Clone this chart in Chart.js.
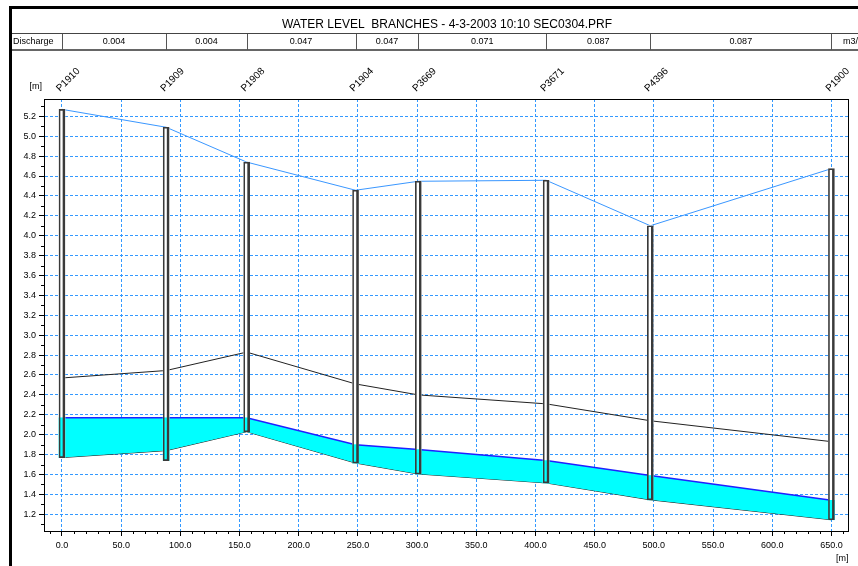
<!DOCTYPE html>
<html>
<head>
<meta charset="utf-8">
<title>Water level branches</title>
<script src="https://cdn.jsdelivr.net/npm/chart.js@4/dist/chart.umd.min.js"></script>
<style>
    body { margin: 0; background: #fff; }
    #wrap { width: 858px; height: 566px; }
</style>
</head>
<body>
<div id="wrap"><canvas id="myChart" width="858" height="566"></canvas></div>
<script>
// Données du profil
const nodeNames = ['P1910', 'P1909', 'P1908', 'P1904', 'P3669', 'P3671', 'P4396', 'P1900'];
const chainage = [0, 88, 156, 248, 301, 409, 497, 650];
const groundLevel = [5.27, 5.09, 4.74, 4.457, 4.547, 4.557, 4.10, 4.674];
const crownLevel = [2.57, 2.645, 2.83, 2.51, 2.40, 2.31, 2.14, 1.93];
const waterLevel = [2.17, 2.17, 2.17, 1.90, 1.85, 1.74, 1.59, 1.34];
const invertLevel = [1.77, 1.84, 2.03, 1.715, 1.605, 1.515, 1.345, 1.145];
const manholeBottom = [1.77, 1.74, 2.03, 1.715, 1.605, 1.515, 1.345, 1.145];
const discharge = ['0.004', '0.004', '0.047', '0.047', '0.071', '0.087', '0.087'];

// Graduations
const xTicks = [0, 50, 100, 150, 200, 250, 300, 350, 400, 450, 500, 550, 600, 650];
const yTicks = [1.2, 1.4, 1.6, 1.8, 2.0, 2.2, 2.4, 2.6, 2.8, 3.0, 3.2, 3.4, 3.6, 3.8, 4.0, 4.2, 4.4, 4.6, 4.8, 5.0, 5.2];

const FONT = 'Liberation Sans, Arial, sans-serif';

// Construction des points
function toPoints(values) {
    let pts = [];
    for (let i = 0; i < chainage.length; i++) {
        pts.push({ x: chainage[i], y: values[i] });
    }
    return pts;
}

function toBars(lows, highs) {
    let pts = [];
    for (let i = 0; i < chainage.length; i++) {
        pts.push({ x: chainage[i], y: [lows[i], highs[i]] });
    }
    return pts;
}

// En-tête : cadre, titre, ligne des débits, noms des noeuds
const headerPlugin = {
    id: 'header',
    beforeDraw(chart) {
        const ctx = chart.ctx;
        const xs = chart.scales.x;
        ctx.save();
        ctx.fillStyle = '#fff';
        ctx.fillRect(0, 0, chart.width, chart.height);

        // cadre
        ctx.fillStyle = '#000';
        ctx.fillRect(9, 6, chart.width - 9, 3);
        ctx.fillRect(9, 6, 3, chart.height - 6);

        // titre
        ctx.font = '12px ' + FONT;
        ctx.textAlign = 'center';
        ctx.textBaseline = 'alphabetic';
        ctx.fillText('WATER LEVEL  BRANCHES - 4-3-2003 10:10 SEC0304.PRF', 447, 28);

        // ligne des débits
        ctx.strokeStyle = '#444';
        ctx.lineWidth = 1;
        ctx.beginPath();
        ctx.moveTo(12, 33.5);
        ctx.lineTo(chart.width, 33.5);
        ctx.stroke();
        ctx.strokeStyle = '#666';
        ctx.lineWidth = 2;
        ctx.beginPath();
        ctx.moveTo(12, 50);
        ctx.lineTo(chart.width, 50);
        ctx.stroke();

        ctx.strokeStyle = '#555';
        ctx.lineWidth = 1;
        for (let i = 0; i < chainage.length; i++) {
            const px = Math.round(xs.getPixelForValue(chainage[i])) + 0.5;
            ctx.beginPath();
            ctx.moveTo(px, 34);
            ctx.lineTo(px, 50);
            ctx.stroke();
        }

        ctx.font = '9px ' + FONT;
        ctx.textBaseline = 'middle';
        ctx.textAlign = 'left';
        ctx.fillText('Discharge', 13, 42);
        ctx.textAlign = 'center';
        for (let i = 0; i < discharge.length; i++) {
            const a = xs.getPixelForValue(chainage[i]);
            const b = xs.getPixelForValue(chainage[i + 1]);
            ctx.fillText(discharge[i], (a + b) / 2, 42);
        }
        ctx.textAlign = 'left';
        ctx.fillText('m3/s', 843, 42);

        // noms des noeuds
        ctx.font = '10px ' + FONT;
        ctx.textBaseline = 'alphabetic';
        for (let i = 0; i < nodeNames.length; i++) {
            const px = xs.getPixelForValue(chainage[i]);
            ctx.save();
            ctx.translate(px - 2, 92);
            ctx.rotate(-Math.PI / 4);
            ctx.fillText(nodeNames[i], 0, 0);
            ctx.restore();
        }

        // unités
        ctx.font = '9px ' + FONT;
        ctx.textBaseline = 'middle';
        ctx.textAlign = 'right';
        ctx.fillText('[m]', 42, 87);
        ctx.textAlign = 'left';
        ctx.fillText('[m]', 836, 559);
        ctx.restore();
    },
    beforeDatasetsDraw(chart) {
        // cadre de la zone du graphique
        const a = chart.chartArea;
        const ctx = chart.ctx;
        ctx.save();
        ctx.strokeStyle = '#000';
        ctx.lineWidth = 1;
        ctx.strokeRect(Math.round(a.left) + 0.5, Math.round(a.top) + 0.5,
            Math.round(a.right - a.left), Math.round(a.bottom - a.top));
        ctx.restore();
    },
    afterDraw(chart) {
        // petites graduations
        const ctx = chart.ctx;
        const xs = chart.scales.x;
        const ys = chart.scales.y;
        const a = chart.chartArea;
        ctx.save();
        ctx.strokeStyle = '#000';
        ctx.lineWidth = 1;
        ctx.beginPath();
        for (let v = -10; v <= 660; v += 10) {
            if (v % 50 === 0) continue;
            const px = Math.round(xs.getPixelForValue(v)) + 0.5;
            ctx.moveTo(px, a.bottom);
            ctx.lineTo(px, a.bottom + 3);
        }
        for (let k = 11; k <= 53; k += 2) {
            const py = Math.round(ys.getPixelForValue(k / 10)) + 0.5;
            ctx.moveTo(a.left - 3, py);
            ctx.lineTo(a.left, py);
        }
        ctx.stroke();
        ctx.restore();
    }
};

const ctx = document.getElementById('myChart');

const chart = new Chart(ctx, {
    type: 'line',
    data: {
        datasets: [
            {
                label: 'Ground level',
                data: toPoints(groundLevel),
                borderColor: '#3a97ff',
                borderWidth: 1,
                pointRadius: 0,
                fill: false
            },
            {
                label: 'Crown',
                data: toPoints(crownLevel),
                borderColor: '#222',
                borderWidth: 1,
                pointRadius: 0,
                fill: false
            },
            {
                label: 'Water level',
                data: toPoints(waterLevel),
                borderColor: '#2020ff',
                borderWidth: 1.5,
                backgroundColor: '#00ffff',
                pointRadius: 0,
                fill: '+1'
            },
            {
                label: 'Invert',
                data: toPoints(invertLevel),
                borderColor: '#222',
                borderWidth: 1,
                pointRadius: 0,
                fill: false
            },
            {
                type: 'bar',
                label: 'Manhole',
                data: toBars(manholeBottom, groundLevel),
                backgroundColor: '#fff',
                borderWidth: 0,
                barThickness: 6,
                grouped: false,
                order: -1
            },
            {
                type: 'bar',
                label: 'Manhole water',
                data: toBars(manholeBottom, waterLevel),
                backgroundColor: '#00ffff',
                borderWidth: 0,
                barThickness: 6,
                grouped: false,
                order: -2
            },
            {
                type: 'bar',
                label: 'Manhole outline',
                data: toBars(manholeBottom, groundLevel),
                backgroundColor: 'rgba(0,0,0,0)',
                borderColor: '#3a3a3a',
                borderWidth: { left: 1, top: 1, bottom: 1, right: 2 },
                borderSkipped: false,
                barThickness: 6,
                grouped: false,
                order: -3
            }
        ]
    },
    options: {
        responsive: false,
        animation: false,
        layout: {
            padding: { left: 12, top: 99, right: 10, bottom: 10 }
        },
        plugins: {
            legend: { display: false },
            tooltip: { enabled: false }
        },
        scales: {
            x: {
                type: 'linear',
                min: -15.2,
                max: 664,
                offset: false,
                afterFit: function(scale) { scale.height = 25; },
                afterBuildTicks: function(scale) {
                    scale.ticks = xTicks.map(v => ({ value: v }));
                },
                ticks: {
                    autoSkip: false,
                    maxRotation: 0,
                    padding: 4,
                    color: '#000',
                    font: { family: FONT, size: 9 },
                    callback: v => v.toFixed(1)
                },
                grid: {
                    offset: false,
                    color: '#3399ff',
                    lineWidth: 1,
                    tickColor: '#000',
                    tickLength: 5
                },
                border: { display: true, color: '#000', dash: [3, 2] }
            },
            y: {
                type: 'linear',
                min: 1.032,
                max: 5.374,
                afterFit: function(scale) { scale.width = 32; },
                afterBuildTicks: function(scale) {
                    scale.ticks = yTicks.map(v => ({ value: v }));
                },
                ticks: {
                    autoSkip: false,
                    padding: 3,
                    color: '#000',
                    font: { family: FONT, size: 9 },
                    callback: v => v.toFixed(1)
                },
                grid: {
                    color: '#3399ff',
                    lineWidth: 1,
                    tickColor: '#000',
                    tickLength: 5
                },
                border: { display: true, color: '#000', dash: [3, 2] }
            }
        }
    },
    plugins: [headerPlugin]
});
</script>
</body>
</html>
